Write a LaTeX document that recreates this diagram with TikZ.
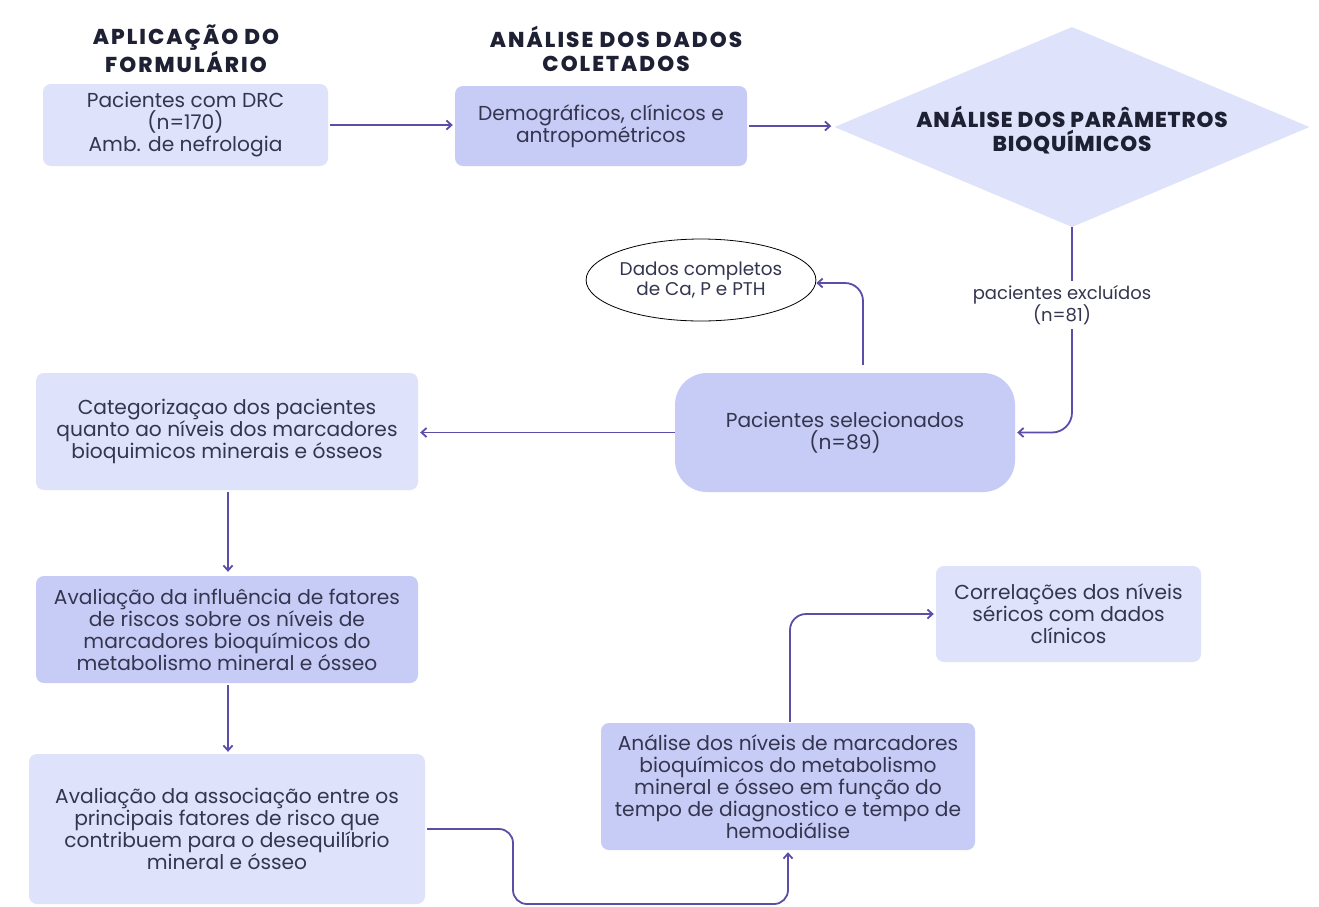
\documentclass[tikz,border=0pt]{standalone}
\usepackage{fontspec}
\setmainfont{Poppins}
\newfontfamily\headfont{Poppins}[UprightFont=* ExtraBold, LetterSpace=9.5]
\newfontfamily\diafont{Poppins}[UprightFont=* ExtraBold, LetterSpace=4]
\usetikzlibrary{arrows.meta,shapes.geometric}
\definecolor{boxlight}{HTML}{DEE2FA}
\definecolor{boxdark}{HTML}{C6CCF6}
\definecolor{arrowc}{HTML}{5B4DA8}
\definecolor{txt}{HTML}{34354F}
\definecolor{head}{HTML}{1E2033}
\begin{document}
\begin{tikzpicture}[x=1pt,y=-1pt,
  every node/.style={text=txt},
  body/.style={font=\fontsize{20.2}{22}\selectfont, align=center},
  headtxt/.style={font=\fontsize{21.5}{24}\selectfont\headfont, text=head, align=center},
  diatxt/.style={font=\fontsize{21.5}{23.5}\selectfont\diafont, text=head, align=center},
  lbox/.style={body, rectangle, rounded corners=8pt, fill=boxlight, inner sep=0pt},
  dbox/.style={body, rectangle, rounded corners=8pt, fill=boxdark, inner sep=0pt},
  arr/.style={draw=arrowc, line width=1.8pt, -{Straight Barb[length=5pt,width=9pt]}},
  conn/.style={draw=arrowc, line width=1.8pt}
]
\useasboundingbox (0,0) rectangle (1319,906);
\fill[white] (0,0) rectangle (1319,906);

% headings
\node[headtxt] (h1) at (186,49) {APLICAÇÃO DO\\FORMULÁRIO};
\node[headtxt] (h2) at (616,49) {ANÁLISE DOS DADOS\\COLETADOS};

% boxes
\node[lbox, minimum width=285pt, minimum height=82pt] (b1) at (185.5,125) {\rule{0pt}{4pt}Pacientes com DRC\\(n=170)\\Amb. de nefrologia};
\node[dbox, minimum width=292pt, minimum height=80pt] (b2) at (601,126) {Demográficos, clínicos e\\antropométricos};
\node[diamond, fill=boxlight, minimum width=475pt, minimum height=200pt, aspect=2.375, inner sep=0pt] (dia) at (1072,127) {};
\node[diatxt] (diat) at (1072,130) {ANÁLISE DOS PARÂMETROS\\BIOQUÍMICOS};

\node[ellipse, draw=black, line width=0.8pt, fill=white, minimum width=218pt, minimum height=82pt, inner sep=0pt, body, font=\fontsize{18.4}{20}\selectfont] (ell) at (701,280) {Dados completos\\de Ca, P e PTH};

\node[body, font=\fontsize{18}{21}\selectfont, inner sep=4pt] (lbl) at (1062,305) {pacientes excluídos\\(n=81)};

\node[dbox, rounded corners=32pt, minimum width=340pt, minimum height=119pt] (sel) at (845,432.5) {Pacientes selecionados\\(n=89)};

\node[lbox, minimum width=382pt, minimum height=117pt] (cat) at (227,431.5) {Categorizaçao dos pacientes\\quanto ao níveis dos marcadores\\bioquimicos minerais e ósseos};
\node[dbox, minimum width=382pt, minimum height=107pt] (av1) at (227,629.5) {Avaliação da influência de fatores\\de riscos sobre os níveis de\\marcadores bioquímicos do\\metabolismo mineral e ósseo};
\node[lbox, minimum width=396pt, minimum height=150pt] (av2) at (227,829) {Avaliação da associação entre os\\principais fatores de risco que\\contribuem para o desequilíbrio\\mineral e ósseo};
\node[dbox, minimum width=374pt, minimum height=127pt] (ana) at (788,786.5) {Análise dos níveis de marcadores\\bioquímicos do metabolismo\\mineral e ósseo em função do\\tempo de diagnostico e tempo de\\hemodiálise};
\node[lbox, minimum width=265pt, minimum height=96pt] (cor) at (1068.5,614) {Correlações dos níveis\\séricos com dados\\clínicos};

% connectors
\draw[arr, shorten <=2pt, shorten >=2pt] (b1.east) -- (b1.east -| b2.west);
\draw[arr, shorten <=2pt, shorten >=3pt] (b2.east) -- (b2.east -| dia.west);
\draw[conn] (dia.south) -- (dia.south |- lbl.north);
\draw[arr, rounded corners=20pt, shorten >=2pt] (dia.south |- lbl.south) -- (dia.south |- sel.east) -- (sel.east);
\draw[arr, rounded corners=18pt, shorten <=8pt] ([xshift=18pt]sel.north) -- ([xshift=18pt,yshift=-3pt]sel.north |- ell.east) -- ([yshift=-3pt]ell.east);
\draw[arr, shorten >=2pt] (sel.west) -- (sel.west -| cat.east);
\draw[arr, shorten <=2pt, shorten >=4pt] ([xshift=1pt]cat.south) -- ([xshift=1pt]av1.north);
\draw[arr, shorten <=2pt, shorten >=2pt] ([xshift=1pt]av1.south) -- ([xshift=1pt]av2.north);
\coordinate (bt) at (513,904);
\draw[arr, rounded corners=14pt, shorten <=2pt, shorten >=2pt] (av2.east) -| (bt) -- (bt -| ana.south) -- (ana.south);
\draw[arr, rounded corners=16pt, shorten <=1pt, shorten >=2pt] ([xshift=2pt]ana.north) |- (cor.west);
\end{tikzpicture}
\end{document}
